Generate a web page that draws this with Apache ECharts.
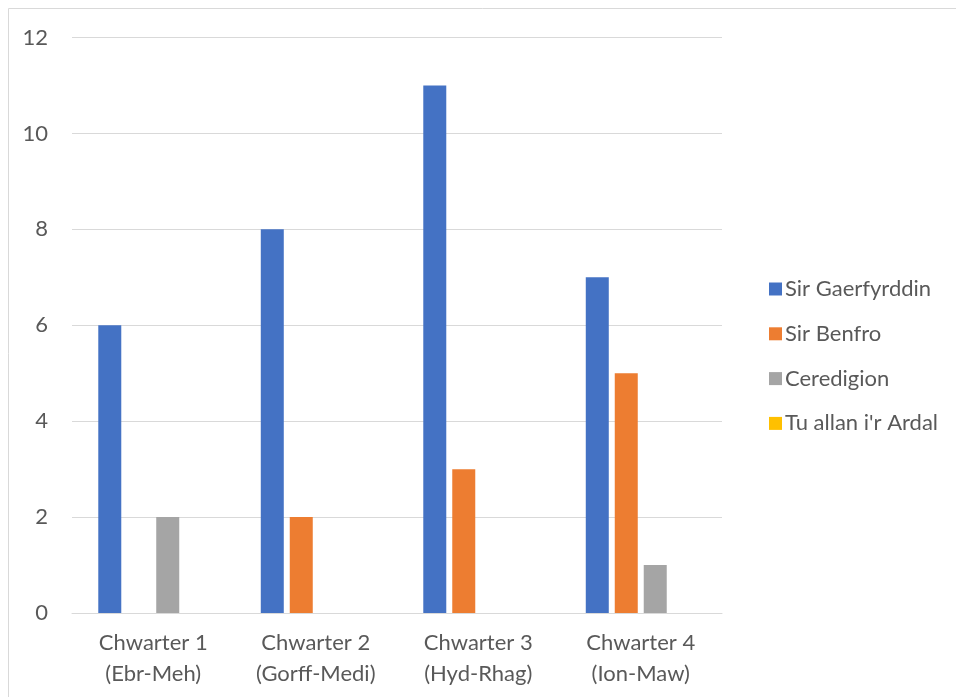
<!DOCTYPE html>
<html>
<head>
<meta charset="utf-8">
<script src="https://cdn.jsdelivr.net/npm/echarts@6/dist/echarts.min.js"></script>
<style>
html,body{margin:0;padding:0;background:#fff;}
#chart{width:956px;height:697px;}
</style>
</head>
<body>
<div id="chart"></div>
<script>
const categories = ["Chwarter 1\n(Ebr-Meh)", "Chwarter 2\n(Gorff-Medi)", "Chwarter 3\n(Hyd-Rhag)", "Chwarter 4\n(Ion-Maw)"];
const seriesNames = ["Sir Gaerfyrddin", "Sir Benfro", "Ceredigion", "Tu allan i'r Ardal"];
const sirGaerfyrddin = [6, 8, 11, 7];
const sirBenfro = [0, 2, 3, 5];
const ceredigion = [2, 0, 0, 1];
const tuAllan = [0, 0, 0, 0];
const yTicks = [0, 2, 4, 6, 8, 10, 12];

const colors = ['#4472C4', '#ED7D31', '#A5A5A5', '#FFC000'];
const values = [sirGaerfyrddin, sirBenfro, ceredigion, tuAllan];
const font = 'Lato';

const chart = echarts.init(document.getElementById('chart'));
chart.setOption({
  animation: false,
  color: colors,
  graphic: [{
    type: 'rect',
    shape: {x: 8.5, y: 8.5, width: 1000, height: 1000},
    style: {fill: 'none', stroke: '#d9d9d9', lineWidth: 1},
    silent: true
  }],
  grid: {left: 72, right: 234, top: 37.5, bottom: 84, containLabel: false},
  legend: {
    orient: 'vertical',
    left: 764,
    top: 273,
    itemWidth: 13,
    itemHeight: 13,
    itemGap: 22.8,
    icon: 'rect',
    textStyle: {fontFamily: font, fontSize: 22, color: '#595959', lineHeight: 22, padding: [0, 0, 0, -2]},
    data: seriesNames
  },
  xAxis: {
    type: 'category',
    data: categories,
    axisLine: {show: true, lineStyle: {color: '#d9d9d9', width: 1}},
    axisTick: {show: false},
    axisLabel: {fontFamily: font, fontSize: 22, color: '#595959', lineHeight: 31, margin: 14, interval: 0}
  },
  yAxis: {
    type: 'value',
    min: yTicks[0],
    max: yTicks[yTicks.length - 1],
    interval: 2,
    axisLine: {show: false},
    axisTick: {show: false},
    splitLine: {lineStyle: {color: '#d9d9d9', width: 1}},
    axisLabel: {fontFamily: font, fontSize: 22, color: '#595959', margin: 24}
  },
  series: seriesNames.map((n, i) => ({
    name: n,
    type: 'bar',
    data: values[i],
    barWidth: 23,
    barGap: '26%',
    itemStyle: {color: colors[i]}
  }))
});
</script>
</body>
</html>
